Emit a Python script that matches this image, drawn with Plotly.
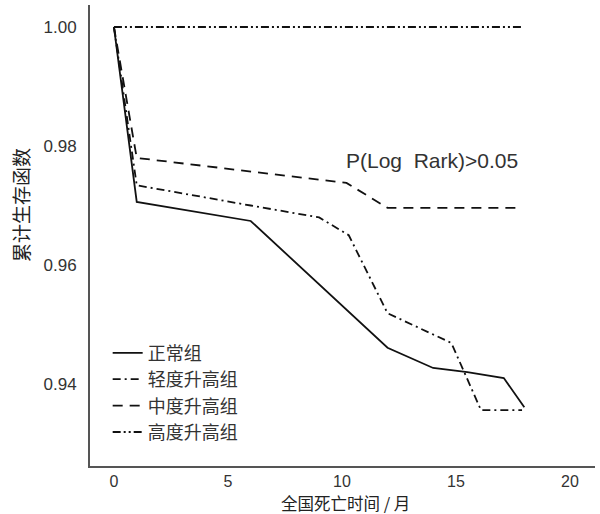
import plotly.graph_objects as go

# ---- data ----
normal_x = [0, 1, 6, 12, 14, 15.5, 17.1, 18]
normal_y = [1.0, 0.9706, 0.9674, 0.9461, 0.9427, 0.9420, 0.9410, 0.9361]

mild_x = [0, 1, 6, 9, 10.3, 12, 14.8, 16.1, 17.9]
mild_y = [1.0, 0.9734, 0.9700, 0.9680, 0.9650, 0.9519, 0.9469, 0.9356, 0.9356]

moderate_x = [0, 1, 10.2, 12, 17.7]
moderate_y = [1.0, 0.9780, 0.9738, 0.9696, 0.9696]

severe_x = [0, 17.9]
severe_y = [1.0, 1.0]

names = ["正常组", "轻度升高组", "中度升高组", "高度升高组"]
x_ticks = [0, 5, 10, 15, 20]
y_ticks = [0.94, 0.96, 0.98, 1.00]
y_tick_text = ["0.94", "0.96", "0.98", "1.00"]
x_title = "全国死亡时间 / 月"
y_title = "累计生存函数"
note = "P(Log  Rark)>0.05"

FONT = "Liberation Sans, Arial, Noto Sans CJK SC, sans-serif"
CJK = "Noto Sans CJK SC, Liberation Sans, sans-serif"

dashes = ["solid", "8px,4px,2px,4px", "10px,7px", "8px,3px,2px,3px,2px,3px"]
series = [(normal_x, normal_y), (mild_x, mild_y), (moderate_x, moderate_y), (severe_x, severe_y)]

fig = go.Figure()
for (xs, ys), nm, ds in zip(series, names, dashes):
    fig.add_trace(go.Scatter(
        x=xs, y=ys, name=nm, mode="lines", legendgroup=nm,
        line=dict(color="#111111", width=1.8, dash=ds),
    ))

fig.update_layout(
    width=600, height=514,
    margin=dict(l=90, r=5, t=5, b=48),
    paper_bgcolor="white", plot_bgcolor="white",
    font=dict(family=FONT, size=17, color="#333333"),
    showlegend=True,
    legend=dict(
        x=0.035, y=0.285, xanchor="left", yanchor="top",
        bgcolor="rgba(0,0,0,0)", borderwidth=0,
        font=dict(family=CJK, size=18, color="#333333"),
        tracegroupgap=0,
    ),
    xaxis=dict(
        range=[-1.05, 21.1], tickvals=x_ticks, ticks="", showgrid=False,
        zeroline=False, showline=True, linecolor="#555555", linewidth=2,
        ticklabelstandoff=0, tickfont=dict(size=16),
    ),
    yaxis=dict(
        range=[0.92622, 1.0037], tickvals=y_ticks, ticktext=y_tick_text, ticks="",
        showgrid=False, zeroline=False, showline=True, linecolor="#555555",
        linewidth=2, ticklabelstandoff=8, tickfont=dict(size=17),
    ),
    annotations=[
        dict(text=note, x=13.95, y=0.9776, xref="x", yref="y", showarrow=False,
             xanchor="center", yanchor="middle",
             font=dict(family=FONT, size=21, color="#333333")),
        dict(text=x_title, x=0.505, y=-0.0802, xref="paper", yref="paper",
             showarrow=False, xanchor="center", yanchor="middle",
             font=dict(family=CJK, size=16.5, color="#222222")),
        dict(text=y_title, x=-0.1386, y=0.566, xref="paper", yref="paper",
             showarrow=False, xanchor="center", yanchor="middle", textangle=-90,
             font=dict(family=CJK, size=19, color="#222222")),
    ],
)

fig.write_html("out.html", config={"displayModeBar": False},
               post_script="document.body.style.margin='0px';")
